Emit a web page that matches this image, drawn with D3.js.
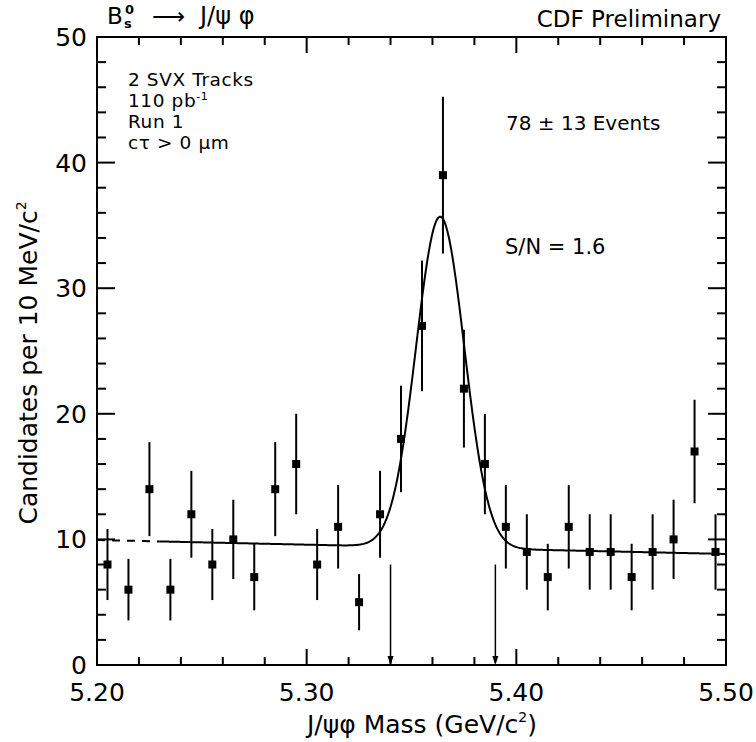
<!DOCTYPE html>
<html>
<head>
<meta charset="utf-8">
<script src="https://cdn.jsdelivr.net/npm/d3@7"></script>
<style>
  html, body { margin: 0; padding: 0; background: #fff; }
  svg { display: block; }
  text { font-family: "DejaVu Sans", "Liberation Sans", Arial, sans-serif; fill: #000; }
</style>
</head>
<body>
<svg id="chart" width="756" height="742"></svg>
<script>
// ---- data ----
const massBins = [5.205, 5.215, 5.225, 5.235, 5.245, 5.255, 5.265, 5.275, 5.285, 5.295,
                  5.305, 5.315, 5.325, 5.335, 5.345, 5.355, 5.365, 5.375, 5.385, 5.395,
                  5.405, 5.415, 5.425, 5.435, 5.445, 5.455, 5.465, 5.475, 5.485, 5.495];
const counts = [8, 6, 14, 6, 12, 8, 10, 7, 14, 16,
                8, 11, 5, 12, 18, 27, 39, 22, 16, 11,
                9, 7, 11, 9, 9, 7, 9, 10, 17, 9];
const errors = [2.83, 2.45, 3.74, 2.45, 3.46, 2.83, 3.16, 2.65, 3.74, 4.0,
                2.83, 3.32, 2.24, 3.46, 4.24, 5.2, 6.24, 4.69, 4.0, 3.32,
                3.0, 2.65, 3.32, 3.0, 3.0, 2.65, 3.0, 3.16, 4.12, 3.0];
const xMajorTicks = [5.20, 5.30, 5.40, 5.50];
const xTickLabels = ["5.20", "5.30", "5.40", "5.50"];
const xMinorTicks = [5.22, 5.24, 5.26, 5.28, 5.32, 5.34, 5.36, 5.38, 5.42, 5.44, 5.46, 5.48];
const yMajorTicks = [0, 10, 20, 30, 40, 50];
const yMinorTicks = [2, 4, 6, 8, 12, 14, 16, 18, 22, 24, 26, 28, 32, 34, 36, 38, 42, 44, 46, 48];
const arrowMasses = [5.34, 5.39];
const arrowTop = 8;
// fit: linear background + gaussian
const bgAt520 = 9.95, bgSlope = -3.7;
const gAmp = 26.35, gMean = 5.3637, gSigma = 0.0115;
const fitStart = 5.23;

// ---- layout ----
const svg = d3.select("#chart");
const L = 97, R = 726, T = 37, B = 665;
const x = d3.scaleLinear().domain([5.20, 5.50]).range([L, R]);
const y = d3.scaleLinear().domain([0, 50]).range([B, T]);

svg.append("rect").attr("width", 756).attr("height", 742).attr("fill", "#fff");

// frame
svg.append("rect").attr("x", L).attr("y", T).attr("width", R - L).attr("height", B - T)
  .attr("fill", "none").attr("stroke", "#000").attr("stroke-width", 2);

const tk = svg.append("g").attr("stroke", "#000").attr("stroke-width", 2);
xMajorTicks.forEach(v => {
  tk.append("line").attr("x1", x(v)).attr("x2", x(v)).attr("y1", B).attr("y2", B - 16);
  tk.append("line").attr("x1", x(v)).attr("x2", x(v)).attr("y1", T).attr("y2", T + 16);
});
xMinorTicks.forEach(v => {
  tk.append("line").attr("x1", x(v)).attr("x2", x(v)).attr("y1", B).attr("y2", B - 8);
  tk.append("line").attr("x1", x(v)).attr("x2", x(v)).attr("y1", T).attr("y2", T + 8);
});
yMajorTicks.forEach(v => {
  tk.append("line").attr("x1", L).attr("x2", L + 18).attr("y1", y(v)).attr("y2", y(v));
  tk.append("line").attr("x1", R).attr("x2", R - 18).attr("y1", y(v)).attr("y2", y(v));
});
yMinorTicks.forEach(v => {
  tk.append("line").attr("x1", L).attr("x2", L + 9).attr("y1", y(v)).attr("y2", y(v));
  tk.append("line").attr("x1", R).attr("x2", R - 9).attr("y1", y(v)).attr("y2", y(v));
});

// tick labels
xMajorTicks.forEach((v, i) => {
  svg.append("text").attr("x", x(v)).attr("y", 701).attr("text-anchor", "middle")
    .attr("font-size", 25).text(xTickLabels[i]);
});
yMajorTicks.forEach(v => {
  svg.append("text").attr("x", 87).attr("y", y(v) + 9).attr("text-anchor", "end")
    .attr("font-size", 25).text(v);
});

// axis titles
const xt = svg.append("text").attr("x", 422).attr("y", 733).attr("text-anchor", "middle").attr("font-size", 25);
xt.append("tspan").text("J/ψφ Mass (GeV/c");
xt.append("tspan").attr("font-size", 14).attr("dy", -11).text("2");
xt.append("tspan").attr("dy", 11).text(")");

const yt = svg.append("text").attr("transform", "translate(37,363) rotate(-90)")
  .attr("text-anchor", "middle").attr("font-size", 25);
yt.append("tspan").text("Candidates per 10 MeV/c");
yt.append("tspan").attr("font-size", 14).attr("dy", -11).text("2");

// header
svg.append("text").attr("x", 107).attr("y", 24).attr("font-size", 23).text("B");
svg.append("text").attr("x", 124).attr("y", 28).attr("font-size", 13).attr("font-weight", "bold").text("s");
svg.append("text").attr("x", 125).attr("y", 14).attr("font-size", 13).attr("font-weight", "bold").text("0");
svg.append("text").attr("x", 152).attr("y", 24).attr("font-size", 23).text("\u27F6");
svg.append("text").attr("x", 200).attr("y", 24).attr("font-size", 24).text("J/ψ φ");

svg.append("text").attr("x", 721).attr("y", 27).attr("text-anchor", "end")
  .attr("font-size", 23).text("CDF Preliminary");

// annotations
const notes = svg.append("g").attr("font-size", 18.5).attr("letter-spacing", 0.6);
notes.append("text").attr("x", 128).attr("y", 86).text("2 SVX Tracks");
const n2 = notes.append("text").attr("x", 128).attr("y", 107);
n2.append("tspan").text("110 pb");
n2.append("tspan").attr("font-size", 11).attr("dy", -7).text("-1");
notes.append("text").attr("x", 128).attr("y", 128).text("Run 1");
notes.append("text").attr("x", 128).attr("y", 149).text("cτ > 0 μm");

svg.append("text").attr("x", 506).attr("y", 130).attr("font-size", 20).text("78 ± 13 Events");
svg.append("text").attr("x", 505).attr("y", 254).attr("font-size", 21).text("S/N = 1.6");

// fit curve
const fitFn = m => bgAt520 + bgSlope * (m - 5.20) + gAmp * Math.exp(-((m - gMean) ** 2) / (2 * gSigma * gSigma));
const line = d3.line().x(d => x(d)).y(d => y(fitFn(d)));
const solidPts = d3.range(fitStart, 5.50001, 0.0005);
const dashPts = d3.range(5.20, fitStart + 0.0001, 0.001);
svg.append("path").attr("d", line(solidPts)).attr("fill", "none").attr("stroke", "#000").attr("stroke-width", 2);
svg.append("path").attr("d", line(dashPts)).attr("fill", "none").attr("stroke", "#000").attr("stroke-width", 2)
  .attr("stroke-dasharray", "8,7");

// error bars & markers
const pts = svg.append("g");
massBins.forEach((m, i) => {
  pts.append("line").attr("x1", x(m)).attr("x2", x(m))
    .attr("y1", y(counts[i] - errors[i])).attr("y2", y(counts[i] + errors[i]))
    .attr("stroke", "#000").attr("stroke-width", 2);
  pts.append("rect").attr("x", x(m) - 4).attr("y", y(counts[i]) - 4).attr("width", 8).attr("height", 8)
    .attr("fill", "#000");
});

// arrows
arrowMasses.forEach(m => {
  svg.append("line").attr("x1", x(m)).attr("x2", x(m)).attr("y1", y(arrowTop)).attr("y2", y(0) - 2)
    .attr("stroke", "#000").attr("stroke-width", 1.5);
  svg.append("path")
    .attr("d", `M${x(m) - 3},${y(0) - 9} L${x(m) + 3},${y(0) - 9} L${x(m)},${y(0)} Z`)
    .attr("fill", "#000");
});
</script>
</body>
</html>
